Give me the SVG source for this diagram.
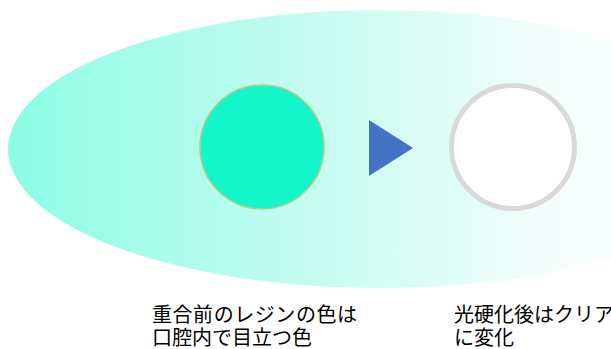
<svg xmlns="http://www.w3.org/2000/svg" width="611" height="349" viewBox="0 0 611 349">
<defs>
<linearGradient id="bg" x1="8" y1="0" x2="752" y2="0" gradientUnits="userSpaceOnUse">
<stop offset="0" stop-color="#8cfce5"/>
<stop offset="0.45" stop-color="#cbfcf1"/>
<stop offset="0.75" stop-color="#f6fefd"/>
<stop offset="1" stop-color="#ffffff"/>
</linearGradient>
<style>
.lbl{font-family:"Noto Sans CJK JP","Noto Sans",sans-serif;font-size:20px;fill:#000}
</style>
</defs>
<rect width="611" height="349" fill="#fff"/>
<ellipse id="bgshape" cx="380" cy="149" rx="372" ry="139" fill="url(#bg)"/>
<g id="before">
<circle cx="262" cy="147" r="62" fill="#12f6ca" stroke="#b7c98c" stroke-width="1.5"/>
</g>
<g id="after">
<circle cx="513" cy="147" r="61.5" fill="#fff" stroke="#d9d9d9" stroke-width="5"/>
</g>
<g id="connectors">
<polygon points="369,120 369,176 413,148" fill="#4472c4"/>
</g>
<g id="label-before">
<text class="lbl" x="152" y="322" textLength="205">重合前のレジンの色は</text>
<text class="lbl" x="152" y="345">口腔内で目立つ色</text>
</g>
<g id="label-after">
<text class="lbl" x="454" y="322">光硬化後はクリア</text>
<text class="lbl" x="454" y="345">に変化</text>
</g>
</svg>
